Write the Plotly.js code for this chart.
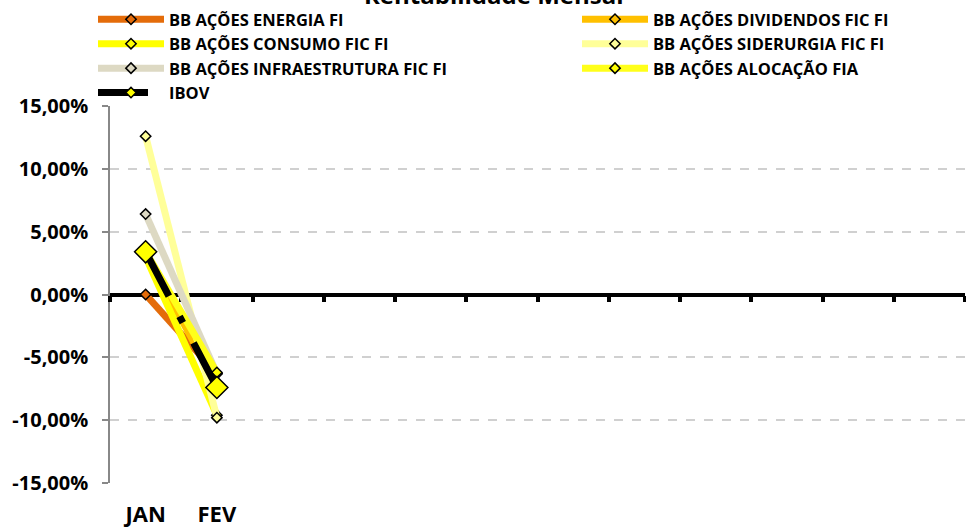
<!DOCTYPE html>
<html>
<head>
<meta charset="utf-8">
<script src="https://cdn.plot.ly/plotly-3.0.1.min.js"></script>
<style>html,body{margin:0;padding:0;background:#fff;}#chart{width:966px;height:527px;}</style>
</head>
<body>
<div id="chart"></div>
<script>
// Data (values in %)
const months = ['JAN', 'FEV'];
const seriesNames = [
  'BB AÇÕES ENERGIA FI',
  'BB AÇÕES DIVIDENDOS FIC FI',
  'BB AÇÕES CONSUMO FIC FI',
  'BB AÇÕES SIDERURGIA FIC FI',
  'BB AÇÕES INFRAESTRUTURA FIC FI',
  'BB AÇÕES ALOCAÇÃO FIA',
  'IBOV'
];
const energia = [0.0, -6.3];
const dividendos = [3.3, -7.2];
const consumo = [3.0, -9.6];
const siderurgia = [12.6, -9.8];
const infraestrutura = [6.4, -6.3];
const alocacao = [3.4, -6.2];
const ibov = [3.4, -7.4];
const noValues = [null, null]; // legend-only IBOV entry

const yTickVals = [15, 10, 5, 0, -5, -10, -15];
const yTickText = ['15,00%', '10,00%', '5,00%', '0,00%', '-5,00%', '-10,00%', '-15,00%'];

const FONT = '"Open Sans", Lato, sans-serif';
const IBOV_DASH = '50px,23px,7px,23px';

function mk(name, y, lineColor, markerColor, leg, opts) {
  opts = opts || {};
  return {
    type: 'scatter', mode: 'lines+markers', name: name,
    x: months, y: y, legend: leg,
    showlegend: opts.showlegend !== false,
    line: {color: lineColor, width: opts.width || 7, dash: opts.dash || 'solid'},
    marker: {symbol: 'diamond', size: opts.size || 8, color: markerColor, line: {color: '#000', width: 1.5}},
    hoverinfo: 'name+y'
  };
}

const traces = [
  mk(seriesNames[0], energia, '#E46C0A', '#E46C0A', 'legend'),
  mk(seriesNames[1], dividendos, '#FFC000', '#FFC000', 'legend2'),
  mk(seriesNames[2], consumo, '#FFFF00', '#FFFF00', 'legend'),
  mk(seriesNames[3], siderurgia, '#FFFF99', '#FFFF99', 'legend2'),
  mk(seriesNames[4], infraestrutura, '#DDD9C3', '#DDD9C3', 'legend'),
  mk(seriesNames[5], alocacao, '#FFFF1A', '#FFFF00', 'legend2'),
  mk(seriesNames[6], ibov, '#000000', '#FFFF00', 'legend', {size: 17, dash: IBOV_DASH, showlegend: false}),
  mk(seriesNames[6], noValues, '#000000', '#FFFF00', 'legend', {size: 8, dash: IBOV_DASH}),
  {type: 'scatter', x: [], y: [], xaxis: 'x2', showlegend: false, hoverinfo: 'skip'}
];

const legendCommon = {
  orientation: 'v', xref: 'container', yref: 'container', y: 1 - 2 / 527, xanchor: 'left', yanchor: 'top',
  font: {family: FONT, size: 16.5, color: '#000', weight: 'bold'},
  itemwidth: 66, itemsizing: 'trace', bgcolor: 'rgba(0,0,0,0)', traceorder: 'normal', borderwidth: 0
};

const layout = {
  width: 966, height: 527,
  margin: {l: 110, r: 1, t: 106, b: 44, autoexpand: false},
  paper_bgcolor: '#fff', plot_bgcolor: '#fff',
  font: {family: FONT, color: '#000'},
  showlegend: true,
  legend: Object.assign({}, legendCommon, {x: 93 / 966}),
  legend2: Object.assign({}, legendCommon, {x: 577 / 966}),
  xaxis: {
    type: 'category', categoryorder: 'array', categoryarray: months,
    range: [-0.5, 11.5], showgrid: false, zeroline: false, showline: false, ticks: '',
    tickfont: {family: FONT, size: 22, weight: 'bold', color: '#000'},
    ticklabelstandoff: 16, fixedrange: true
  },
  xaxis2: {
    overlaying: 'x', anchor: 'free', position: 0.5, range: [-0.5, 11.5],
    showline: true, linecolor: '#000', linewidth: 3.5,
    ticks: 'outside', tickmode: 'linear', tick0: -0.5, dtick: 1, ticklen: 6, tickwidth: 3.5, tickcolor: '#000',
    showticklabels: false, showgrid: false, zeroline: false, layer: 'below traces', fixedrange: true
  },
  yaxis: {
    range: [-15, 15], tickvals: yTickVals, ticktext: yTickText,
    showgrid: true, griddash: 'dash', gridcolor: '#D0D0D0', gridwidth: 1.5,
    zeroline: false, showline: true, linecolor: '#888888', linewidth: 1.5,
    ticks: 'outside', ticklen: 6, tickcolor: '#888888', tickwidth: 1.5,
    tickfont: {family: FONT, size: 20, weight: 'bold', color: '#000'},
    ticklabelstandoff: 10, fixedrange: true, layer: 'below traces'
  },
  annotations: [{
    text: 'Rentabilidade Mensal', xref: 'paper', yref: 'paper', x: (494 - 110) / 855, y: (483 + 5) / 377,
    xanchor: 'center', yanchor: 'middle', showarrow: false,
    font: {family: FONT, size: 24, weight: 'bold', color: '#000'}
  }]
};

Plotly.newPlot('chart', traces, layout, {displayModeBar: false, responsive: false});
</script>
</body>
</html>
